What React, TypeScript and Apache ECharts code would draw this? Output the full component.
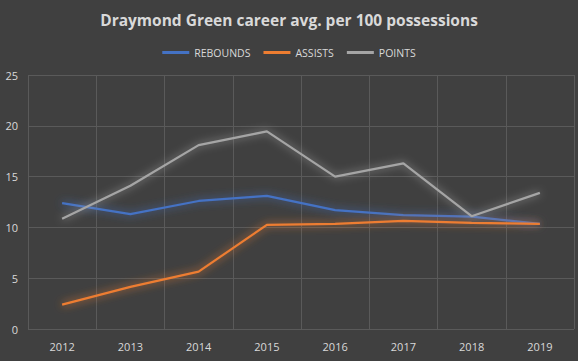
import React, { useEffect, useRef } from "react";
import * as echarts from "echarts";

const years = ["2012", "2013", "2014", "2015", "2016", "2017", "2018", "2019"];
const rebounds = [12.4, 11.3, 12.6, 13.1, 11.7, 11.2, 11.05, 10.35];
const assists = [2.4, 4.15, 5.65, 10.25, 10.35, 10.65, 10.45, 10.35];
const points = [10.85, 14.1, 18.1, 19.45, 15.0, 16.3, 11.1, 13.4];

const FONT = "'Open Sans', 'Liberation Sans', sans-serif";

function mk(name: string, data: number[], color: string) {
  return {
    name,
    type: "line",
    data,
    symbol: "none",
    lineStyle: {
      color,
      width: 2.25,
      shadowColor: color,
      shadowBlur: 9,
    },
    itemStyle: { color },
  };
}

export default function App() {
  const ref = useRef<HTMLDivElement>(null);
  useEffect(() => {
    document.body.style.margin = "0";
    const chart = echarts.init(ref.current!, null, { renderer: "svg" });
    chart.setOption({
      animation: false,
      backgroundColor: "#404040",
      title: {
        text: "Draymond Green career avg. per 100 possessions",
        left: "center",
        top: 7,
        textStyle: { color: "#d9d9d9", fontSize: 15.5, fontWeight: "bold", fontFamily: FONT },
      },
      legend: {
        top: 42,
        left: "center",
        itemWidth: 27,
        itemHeight: 3,
        itemGap: 13,
        icon: "rect",
        textStyle: { color: "#d9d9d9", fontSize: 10.5, fontFamily: FONT },
        data: ["REBOUNDS", "ASSISTS", "POINTS"],
      },
      grid: { left: 28, right: 4, top: 75, bottom: 32 },
      xAxis: {
        type: "category",
        data: years,
        boundaryGap: true,
        axisLine: { show: false },
        axisTick: { show: false },
        splitLine: { show: true, lineStyle: { color: "#5a5a5a", width: 1 } },
        axisLabel: { color: "#d9d9d9", fontSize: 11, fontFamily: FONT, margin: 12 },
      },
      yAxis: {
        type: "value",
        min: 0,
        max: 25,
        interval: 5,
        axisLine: { show: false },
        axisTick: { show: false },
        splitLine: { show: true, lineStyle: { color: "#5a5a5a", width: 1 } },
        axisLabel: { color: "#d9d9d9", fontSize: 11, fontFamily: FONT, margin: 10 },
      },
      series: [
        mk("REBOUNDS", rebounds, "#4472C4"),
        mk("ASSISTS", assists, "#ED7D31"),
        mk("POINTS", points, "#A5A5A5"),
      ],
    });
    return () => chart.dispose();
  }, []);
  return <div ref={ref} style={{ width: 578, height: 361 }} />;
}
